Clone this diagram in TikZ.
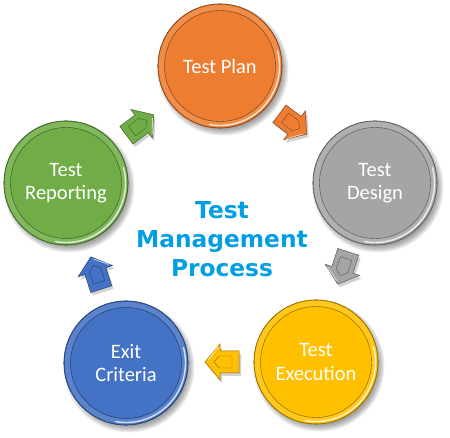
\documentclass[tikz,border=0pt]{standalone}
\usepackage{fontspec}
\setmainfont{Carlito}
\newfontfamily\titlefont{DejaVu Sans}
\definecolor{cPlan}{RGB}{237,125,49}
\definecolor{cDesign}{RGB}{165,165,165}
\definecolor{cExec}{RGB}{255,192,0}
\definecolor{cExit}{RGB}{68,114,196}
\definecolor{cRep}{RGB}{112,173,71}
\definecolor{cTitle}{RGB}{0,158,226}
\tikzset{
  stage/.style={circle, minimum size=124pt, inner sep=0pt, text=white,
    font=\fontsize{20.5}{23.5}\selectfont, align=center},
  title/.style={font=\titlefont\bfseries\fontsize{23.3}{29}\selectfont, text=cTitle, align=center},
  pics/blockarrow/.style={code={
    \draw[fill=#1, draw=#1!55!black, line width=0.5pt]
      (-17,-11) -- (2,-11) -- (2,-18) -- (17,0) -- (2,18) -- (2,11) -- (-17,11) -- cycle;
    \draw[white, opacity=0.6, line width=0.9pt] (4,15) -- (14,2);
    \draw[#1!55!black, line width=0.4pt]
      (-10,-6) -- (3,-6) -- (8,0) -- (3,6) -- (-10,6) -- cycle;
  }},
  pics/arrowshadow/.style={code={
    \fill[black, opacity=0.18]
      (-17,-11) -- (2,-11) -- (2,-18) -- (17,0) -- (2,18) -- (2,11) -- (-17,11) -- cycle;
  }}
}
\newcommand\stagecircle[5]{%
  \foreach \k in {0,...,5}
    \fill[black, opacity=0.07] (#2+3,#3+4) circle ({65.5-1.2*\k});
  \node[stage, fill=#4, draw=#4!60!black, line width=0.6pt] (#1) at (#2,#3) {#5};
  \draw[#4!88!white, line width=5pt] (#1.center) circle (58.5);
  \draw[#4!50!black, line width=0.4pt] (#1.center) circle (55.5);
  \draw[#4!60!black, line width=0.6pt] (#1.center) circle (62);
  \draw[white, opacity=0.75, line width=1.4pt, line cap=round]
    (#1.center) ++(-15:59.5) arc (-15:100:59.5);
}
\begin{document}
\begin{tikzpicture}[x=1pt,y=-1pt]
\useasboundingbox (0,0) rectangle (450,438);
\stagecircle{plan}{220}{66}{cPlan}{Test Plan}
\stagecircle{design}{375}{183}{cDesign}{Test\\Design}
\stagecircle{exec}{316}{362}{cExec}{Test\\Execution}
\stagecircle{exit}{126}{363}{cExit}{Exit\\Criteria}
\stagecircle{rep}{66}{183}{cRep}{Test\\Reporting}
\node[title] (t) at (222,239) {Test\\Management\\Process};
\pic[rotate=-37] at (295,127) {arrowshadow};
\pic[rotate=-37] (a1) at (293,124) {blockarrow=cPlan};
\pic[rotate=-108] at (345,271) {arrowshadow};
\pic[rotate=-108] (a2) at (343,268) {blockarrow=cDesign};
\pic[rotate=180] at (224,365) {arrowshadow};
\pic[rotate=180] (a3) at (222,362) {blockarrow=cExec};
\pic[rotate=108] at (98,276) {arrowshadow};
\pic[rotate=108] (a4) at (96,273) {blockarrow=cExit};
\pic[rotate=37] at (142,128) {arrowshadow};
\pic[rotate=37] (a5) at (140,125) {blockarrow=cRep};
\end{tikzpicture}
\end{document}
